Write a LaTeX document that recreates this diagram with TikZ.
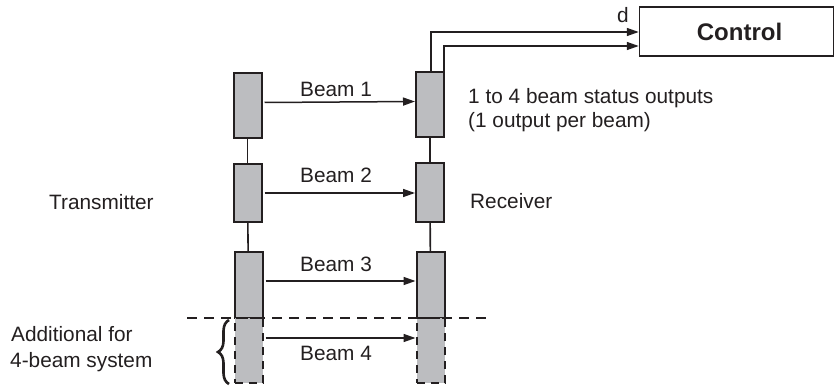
\documentclass[tikz,border=0pt]{standalone}
\usepackage{fontspec}
\setmainfont{Liberation Sans}
\usetikzlibrary{arrows.meta,decorations.pathreplacing,calc}
\definecolor{boxgray}{HTML}{BCBDC0}
\definecolor{ink}{HTML}{231F20}
\begin{document}
\begin{tikzpicture}[x=1pt,y=-1pt,
  lbl/.style={font=\fontsize{20.8}{24}\selectfont, text=ink, inner sep=0pt, anchor=base west},
  unit/.style={draw=ink, fill=boxgray, line width=2pt, minimum width=28pt, inner sep=0pt},
  unitdash/.style={unit, dash pattern=on 8pt off 6pt},
  link/.style={draw=ink, line width=1.6pt},
  arr/.style={draw=ink, line width=1.5pt, -{Triangle[length=12pt,width=8pt]}},
  ctrlbox/.style={draw=ink, line width=1.5pt, minimum width=194pt, minimum height=49pt, inner sep=0pt,
    font=\fontsize{24}{28}\selectfont\bfseries, text=ink}
]
\useasboundingbox (0,0) rectangle (834,385);

% transmitter units
\node[unit, minimum height=65pt] (t1) at (247.5,105.5) {};
\node[unit, minimum height=58pt] (t2) at (247.5,193) {};
\node[unit, minimum height=66pt] (t3) at (248.5,285) {};
\node[unitdash, minimum height=65pt] (t4) at (248.5,350.5) {};
% receiver units
\node[unit, minimum height=65pt] (r1) at (430,104.5) {};
\node[unit, minimum height=59pt] (r2) at (430,192.5) {};
\node[unit, minimum height=66pt] (r3) at (430.5,285) {};
\node[unitdash, minimum height=65pt] (r4) at (430.5,350.5) {};

% vertical links
\draw[link] (t1) -- (t2);
\draw[link] (t2) -- (t3);
\draw[link] (r1) -- (r2);
\draw[link] (r2) -- (r3);

% beams
\draw[arr] ($(t1.east)+(2,-3)$) -- ($(r1.west)+(0,-3)$);
\draw[arr] ($(t2.east)+(2,0)$) -- ($(r2.west)+(0,0.5)$);
\draw[arr] ($(t3.east)+(2,-4)$) -- ($(r3.west)+(0,-4)$);
\draw[arr] ($(t4.east)+(2,-12.5)$) -- ($(r4.west)+(0,-12.5)$);

\node[lbl] (b1) at (300,97) {Beam 1};
\node[lbl] (b2) at (300,182) {Beam 2};
\node[lbl] (b3) at (300,271) {Beam 3};
\node[lbl] (b4) at (300,360) {Beam 4};

% control
\node[ctrlbox] (ctrl) at (736.5,31.5) {\hspace*{6pt}Control};
\draw[arr] ($(r1.north)+(1,0)$) |- ($(ctrl.west)+(0,0.5)$);
\draw[arr] ($(r1.north east)+(-1,0)$) |- ($(ctrl.west)+(0,14.5)$);
\node[lbl] (d) at (617,23) {d};

% side labels
\node[lbl] (tx) at (49,209) {Transmitter};
\node[lbl] (rx) at (470,208) {Receiver};
\node[lbl] (st1) at (468,103) {1 to 4 beam status outputs};
\node[lbl] (st2) at (468,127) {(1 output per beam)};
\node[lbl] (ad1) at (11,341) {Additional for};
\node[lbl] (ad2) at (10,367) {4-beam system};

% dashed separator
\coordinate (dl) at (187,318);
\coordinate (dr) at (493,318);
\draw[draw=ink, line width=1.5pt, dash pattern=on 10pt off 7pt] (dl) -- (dr);

% brace
\coordinate (bb) at (229,384);
\coordinate (bt) at (229,320);
\draw[draw=ink, line width=2.6pt, decorate, decoration={brace, amplitude=11pt}] (bb) -- (bt);
\end{tikzpicture}
\end{document}
